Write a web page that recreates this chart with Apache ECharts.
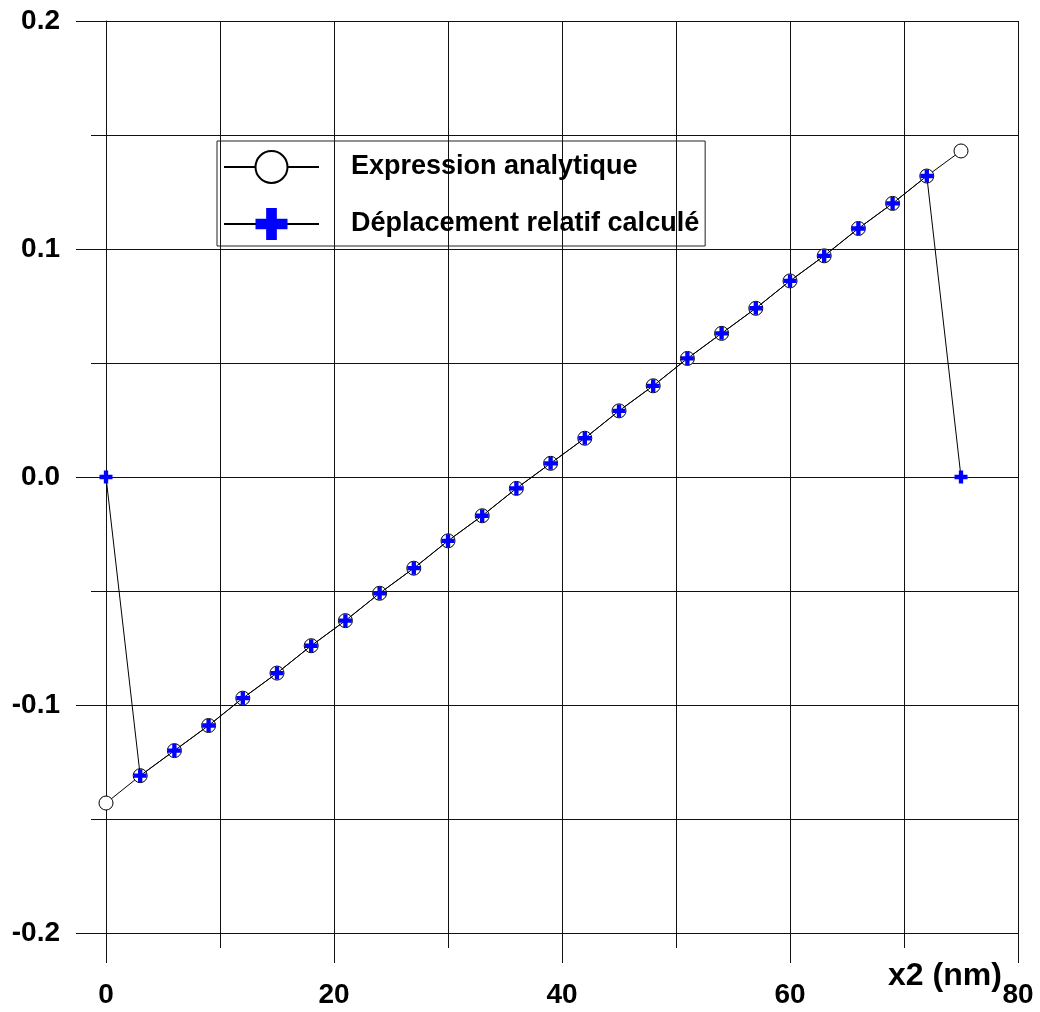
<!DOCTYPE html>
<html>
<head>
<meta charset="utf-8">
<script src="https://cdn.jsdelivr.net/npm/echarts@6/dist/echarts.min.js"></script>
<style>html,body{margin:0;padding:0;background:#fff}#c{width:1040px;height:1012px}</style>
</head>
<body>
<div id="c"></div>
<script>
const xValues = [0,3,6,9,12,15,18,21,24,27,30,33,36,39,42,45,48,51,54,57,60,63,66,69,72,75];
const analytic = [-0.143,-0.131,-0.120,-0.109,-0.097,-0.086,-0.074,-0.063,-0.051,-0.040,-0.028,-0.017,-0.005,0.006,0.017,0.029,0.040,0.052,0.063,0.074,0.086,0.097,0.109,0.120,0.132,0.143];
const computed = [0,-0.131,-0.120,-0.109,-0.097,-0.086,-0.074,-0.063,-0.051,-0.040,-0.028,-0.017,-0.005,0.006,0.017,0.029,0.040,0.052,0.063,0.074,0.086,0.097,0.109,0.120,0.132,0];
const seriesNames = ['Expression analytique', 'Déplacement relatif calculé'];
const xTitle = 'x2 (nm)';

const FONT = 'Liberation Sans, Arial, sans-serif';
const plusPath = 'path://M4,0H8V4H12V8H8V12H4V8H0V4H4Z';
const lineColor = '#111';

const chart = echarts.init(document.getElementById('c'), null, {renderer: 'canvas'});
chart.setOption({
  backgroundColor: '#fff',
  animation: false,
  grid: {left: 106, right: 22, top: 21, bottom: 79, containLabel: false},
  xAxis: {
    type: 'value', min: 0, max: 80, interval: 20,
    axisLine: {show: true, onZero: false, lineStyle: {color: lineColor, width: 1}},
    axisTick: {show: true, length: 30, lineStyle: {color: lineColor}},
    minorTick: {show: true, splitNumber: 2, length: 15, lineStyle: {color: lineColor}},
    splitLine: {show: true, lineStyle: {color: lineColor, width: 1}},
    minorSplitLine: {show: true, lineStyle: {color: lineColor, width: 1}},
    axisLabel: {margin: 48, fontSize: 28, fontWeight: 'bold', fontFamily: FONT, color: '#000', showMaxLabel: true,
      formatter: v => String(Math.round(v))}
  },
  yAxis: {
    type: 'value', min: -0.2, max: 0.2, interval: 0.1,
    axisLine: {show: true, onZero: false, lineStyle: {color: lineColor, width: 1}},
    axisTick: {show: true, length: 30, lineStyle: {color: lineColor}},
    minorTick: {show: true, splitNumber: 2, length: 15, lineStyle: {color: lineColor}},
    splitLine: {show: true, lineStyle: {color: lineColor, width: 1}},
    minorSplitLine: {show: true, lineStyle: {color: lineColor, width: 1}},
    axisLabel: {margin: 46, fontSize: 28, fontWeight: 'bold', fontFamily: FONT, color: '#000',
      formatter: v => { let r = Math.round(v * 10) / 10; if (Math.abs(r) < 1e-9) r = 0; return r.toFixed(1); }}
  },
  legend: {
    left: 217, top: 141, orient: 'vertical',
    itemWidth: 95, itemHeight: 40, itemGap: 24,
    padding: [9, 6, 6, 6],
    borderColor: '#222', borderWidth: 1,
    backgroundColor: 'transparent',
    textStyle: {fontSize: 27, fontWeight: 'bold', fontFamily: FONT, color: '#000', padding: [0, 0, 0, 27]},
    data: seriesNames
  },
  graphic: [{
    type: 'text', left: 888, top: 960, z: 10,
    style: {text: xTitle, font: 'bold 32px ' + FONT, fill: '#000'}
  }],
  series: [
    {
      name: seriesNames[0], type: 'line', z: 3,
      data: xValues.map((x, i) => [x, analytic[i]]),
      symbol: 'circle', symbolSize: 14, showAllSymbol: true,
      lineStyle: {color: '#000', width: 1},
      itemStyle: {color: '#fff', borderColor: '#000', borderWidth: 1}
    },
    {
      name: seriesNames[1], type: 'line', z: 4,
      data: xValues.map((x, i) => [x, computed[i]]),
      symbol: plusPath, symbolSize: 13, showAllSymbol: true,
      lineStyle: {color: '#000', width: 1},
      itemStyle: {color: '#0000ff'}
    }
  ]
});
</script>
</body>
</html>
